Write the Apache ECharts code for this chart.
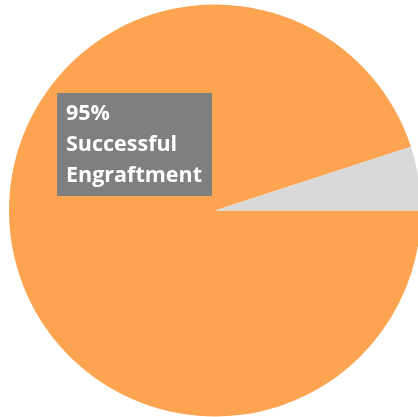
<!DOCTYPE html>
<html>
<head>
<meta charset="utf-8">
<style>
  html, body { margin: 0; padding: 0; background: #ffffff; }
  #chart { width: 418px; height: 417px; }
</style>
<script src="https://cdn.jsdelivr.net/npm/echarts@6/dist/echarts.min.js"></script>
</head>
<body>
<div id="chart"></div>
<script>
// Engraftment outcome shares (percent)
const categories = ['Successful\nEngraftment', 'Graft Failure'];
const values = [95, 5];
const colors = ['#FCA44F', '#D9D9D9'];

const chart = echarts.init(document.getElementById('chart'), null, { renderer: 'canvas' });

const pieData = categories.map((name, i) => ({
  name: name,
  value: values[i],
  itemStyle: { color: colors[i] },
  label: { show: i === 0 }
}));

chart.setOption({
  animation: false,
  backgroundColor: '#ffffff',
  series: [{
    type: 'pie',
    center: [215, 210.5],
    radius: 206,
    startAngle: 18,
    clockwise: false,
    silent: true,
    itemStyle: { borderWidth: 0 },
    labelLine: { show: false },
    label: {
      position: 'inside',
      formatter: '{c}%\n{b}',
      color: '#ffffff',
      fontFamily: 'Open Sans',
      fontWeight: 'bold',
      fontSize: 21.5,
      lineHeight: 31,
      align: 'left',
      backgroundColor: '#7F7F7F',
      padding: [5, 10, 5, 9]
    },
    labelLayout: function (params) {
      if (params.dataIndex === 0) {
        return { x: 57, y: 93, align: 'left', verticalAlign: 'top' };
      }
    },
    data: pieData
  }]
});
</script>
</body>
</html>
